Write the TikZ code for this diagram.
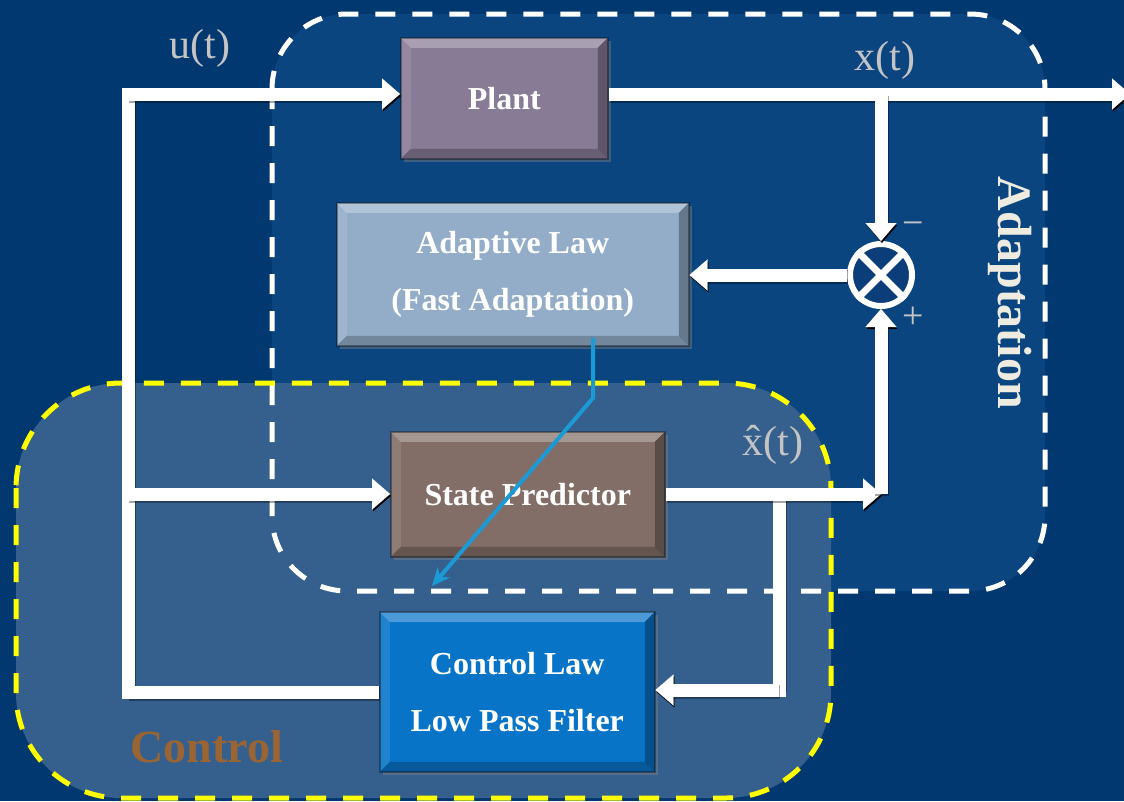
\documentclass[tikz,border=0pt]{standalone}
\usepackage{fontspec}
\setmainfont{Liberation Serif}
\usetikzlibrary{arrows.meta,shadows,calc}

\definecolor{bgnavy}{HTML}{023870}
\definecolor{adaptfill}{HTML}{0A4580}
\definecolor{ctrlfill}{HTML}{35608E}
\definecolor{plantfill}{HTML}{877B96}
\definecolor{lawfill}{HTML}{93ADC8}
\definecolor{predfill}{HTML}{826E66}
\definecolor{ctrlbox}{HTML}{0874C8}
\definecolor{sumfill}{HTML}{0B3D78}
\definecolor{sigblue}{HTML}{1B9AD6}
\definecolor{labelgrey}{HTML}{C4C4C4}
\definecolor{ctrltext}{HTML}{9A6532}
\definecolor{adapttext}{HTML}{EEEBE1}
\definecolor{dashyellow}{HTML}{FFFF00}

\begin{document}
\begin{tikzpicture}[x=1pt,y=-1pt,
  % bevelled block with a soft drop shadow
  block/.style={anchor=north west, draw=black, draw opacity=0.35, line width=1.5pt,
    text=white, align=center, inner sep=0pt,
    font=\fontsize{32}{57}\selectfont\bfseries,
    drop shadow={shadow xshift=3pt, shadow yshift=-3pt, opacity=0.45},
    path picture={
      \path (path picture bounding box.north west) coordinate (bvA)
            (path picture bounding box.north east) coordinate (bvB)
            (path picture bounding box.south east) coordinate (bvC)
            (path picture bounding box.south west) coordinate (bvD);
      \fill[white, opacity=0.28] (bvA) -- (bvB) -- ($(bvB)+(-10,10)$) -- ($(bvA)+(10,10)$) -- cycle;
      \fill[white, opacity=0.10] (bvA) -- ($(bvA)+(10,10)$) -- ($(bvD)+(10,-10)$) -- (bvD) -- cycle;
      \fill[black, opacity=0.22] (bvD) -- ($(bvD)+(10,-10)$) -- ($(bvC)+(-10,-10)$) -- (bvC) -- cycle;
      \fill[black, opacity=0.30] (bvB) -- (bvC) -- ($(bvC)+(-10,-10)$) -- ($(bvB)+(-10,10)$) -- cycle;
    }},
  % thick white connectors with a shadow underneath
  pipe/.style={draw=white, line width=13pt,
    preaction={draw=black, draw opacity=0.35, line width=14pt,
      transform canvas={xshift=1pt, yshift=-2pt}}},
  pipetip/.style={-{Triangle[length=18pt, width=31pt, line width=0.1pt]}},
  region/.style={line width=5pt, dash pattern=on 20pt off 17pt},
  sigtext/.style={text=labelgrey, font=\fontsize{42}{42}\selectfont},
  signmark/.style={text=labelgrey, font=\fontsize{38}{38}\selectfont}
]
\useasboundingbox (0,0) rectangle (1124,801);
\fill[bgnavy] (0,0) rectangle (1124,801);

% regions
\fill[adaptfill, rounded corners=75pt] (272,14) rectangle (1045,591);
\fill[ctrlfill, rounded corners=105pt] (16,383) rectangle (831,798);
\draw[region, white, rounded corners=75pt] (272,14) rectangle (1045,591);
\draw[region, dashyellow, rounded corners=105pt] (16,383) rectangle (831,798);

% blocks
\node[block, fill=plantfill, minimum width=207pt, minimum height=121pt] (plant) at (400,37) {Plant};
\node[block, fill=lawfill, minimum width=352pt, minimum height=143pt] (law) at (336,202) {Adaptive Law\\(Fast Adaptation)};
\node[block, fill=predfill, minimum width=274pt, minimum height=125pt] (pred) at (390,431) {State Predictor};
\node[block, fill=ctrlbox, minimum width=275pt, minimum height=160pt] (ctrl) at (379,611) {Control Law\\Low Pass Filter};

% summing junction
\node[circle, draw=white, line width=6pt, fill=sumfill, minimum size=62pt, inner sep=0pt,
  drop shadow={shadow xshift=2pt, shadow yshift=-2pt, opacity=0.4}] (sum) at (881,275) {};
\draw[white, line width=7pt] (sum.north west) -- (sum.south east) (sum.north east) -- (sum.south west);

% junction points of the connectors
\coordinate (busTop) at (128,94);
\coordinate (busMid) at (128,494);
\coordinate (busBot) at (128,692);
\coordinate (xout) at (1130,94);
\coordinate (xtap) at (881,94);
\coordinate (xhtap) at (881,494);
\coordinate (ctap) at (779,494);
\coordinate (cturn) at (779,690);
\coordinate (sigbend) at (593,398);
\coordinate (sigend) at (432,586);

% connectors
\draw[pipe, line cap=rect] (busTop) -- (busBot);
\draw[pipe, pipetip] (busTop) -- (plant.west |- busTop);
\draw[pipe, pipetip] (busMid) -- (pred.west |- busMid);
\draw[pipe] (ctrl.west |- busBot) -- (busBot);
\draw[pipe, pipetip] (plant.east |- xtap) -- (xout);
\draw[pipe, pipetip] (xtap) -- (sum.north);
\draw[pipe, pipetip] (sum.west) -- (law.east |- sum.west);
\draw[pipe, line cap=rect] (ctap) -- (cturn);
\draw[pipe, pipetip] (cturn) -- (ctrl.east |- cturn);
\draw[pipe, pipetip] (pred.east |- xhtap) -- (xhtap);
\draw[pipe, pipetip] (xhtap) -- (sum.south);

% adaptation signal
\draw[sigblue, line width=4pt, -{Stealth[length=18pt, width=16pt]}]
  ([yshift=9pt]sigbend |- law.south) -- (sigbend) -- (sigend);

% labels
\node[sigtext, anchor=base] (ulab) at (200,58) {u(t)};
\node[sigtext, anchor=base] (xlab) at (885,70) {x(t)};
\node[sigtext, anchor=base] (xhlab) at (773,455) {\^x(t)};
\node[signmark] (minus) at (913,229) {−};
\node[signmark] (plus) at (913,318) {+};
\node[text=ctrltext, font=\fontsize{46}{46}\selectfont\bfseries, anchor=base west] (ctrllab) at (127,762) {Control};
\node[text=adapttext, font=\fontsize{48}{48}\selectfont\bfseries, rotate=-90, anchor=base] (adaptlab) at (998,293) {Adaptation};
\end{tikzpicture}
\end{document}
